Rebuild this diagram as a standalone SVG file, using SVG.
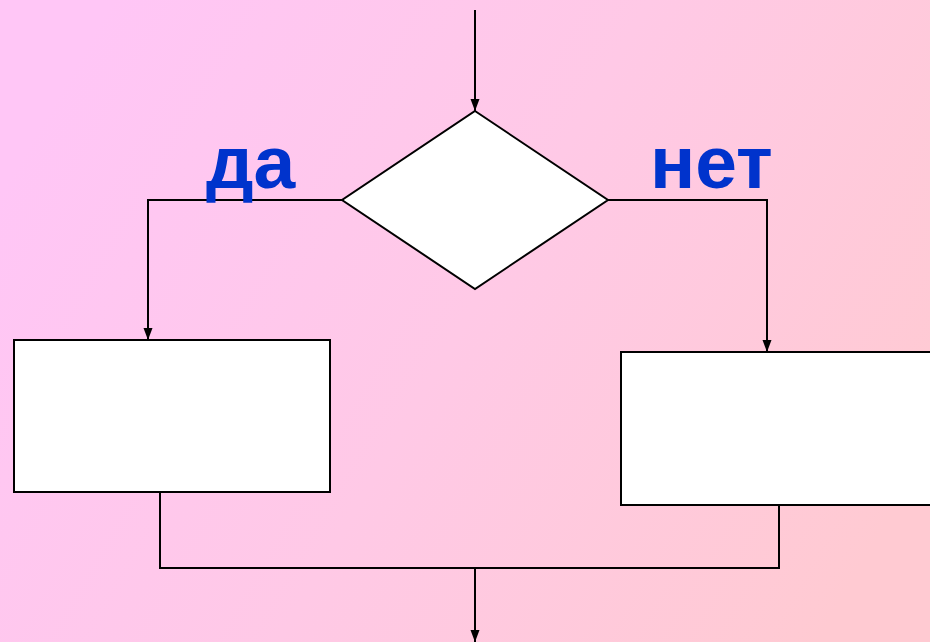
<svg xmlns="http://www.w3.org/2000/svg" width="930" height="642" viewBox="0 0 930 642">
<defs>
<linearGradient id="bg" x1="0" y1="0.3" x2="1" y2="0.7">
<stop offset="0" stop-color="#FFC6F6"/>
<stop offset="0.5" stop-color="#FFC9E6"/>
<stop offset="1" stop-color="#FFCAD2"/>
</linearGradient>
<marker id="arr" viewBox="0 0 12 10" refX="12" refY="5" markerWidth="12" markerHeight="10" markerUnits="userSpaceOnUse" orient="auto">
<path d="M0,0.5 L12,5 L0,9.5 Z" fill="#000"/>
</marker>
<style>
.shape{fill:#fff;stroke:#000;stroke-width:2}
.conn{fill:none;stroke:#000;stroke-width:2}
.lbl{font-family:"Liberation Sans",Arial,sans-serif;font-weight:bold;font-size:75px;fill:#0033CC}
</style>
</defs>
<rect width="930" height="642" fill="url(#bg)"/>
<g id="connectors">
<path class="conn" d="M475,10 L475,111" marker-end="url(#arr)"/>
<path class="conn" d="M342,200 L148,200 L148,340" marker-end="url(#arr)"/>
<path class="conn" d="M608,200 L767,200 L767,352" marker-end="url(#arr)"/>
<path class="conn" d="M160,492 L160,568 L779,568 L779,505"/>
<path class="conn" d="M475,568 L475,642" marker-end="url(#arr)"/>
</g>
<g id="decision">
<polygon class="shape" points="475,111 608,200 475,289 342,200"/>
</g>
<g id="yes-block">
<rect class="shape" x="14" y="340" width="316" height="152"/>
</g>
<g id="no-block">
<rect class="shape" x="621" y="352" width="320" height="153"/>
</g>
<g id="labels">
<text class="lbl" x="206" y="188">да</text>
<text class="lbl" x="650" y="188">нет</text>
</g>
</svg>
